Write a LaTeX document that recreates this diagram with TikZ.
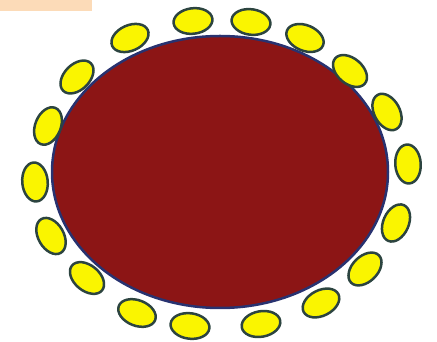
\documentclass[tikz,border=0pt]{standalone}
\usetikzlibrary{shapes.geometric}
\definecolor{bodyred}{HTML}{8C1515}
\definecolor{bodyline}{HTML}{283270}
\definecolor{dotyellow}{HTML}{FAF500}
\definecolor{dotline}{HTML}{2C4440}
\definecolor{peach}{HTML}{FCDBB8}
\tikzset{
  body/.style={ellipse, draw=bodyline, fill=bodyred, line width=2.5pt, inner sep=0pt, minimum width=336pt, minimum height=272pt},
  dot/.style={ellipse, draw=dotline, fill=dotyellow, line width=2.5pt, inner sep=0pt, minimum width=39pt, minimum height=25.5pt},
  tag/.style={fill=peach, draw=none, inner sep=0pt, minimum width=92pt, minimum height=11pt, anchor=north west}
}
\begin{document}
\begin{tikzpicture}[x=1pt,y=1pt]
\useasboundingbox (0,0) rectangle (437,342);
\fill[white] (0,0) rectangle (437,342);
\node[tag] (label) at (0,342) {};
\node[body] (cell) at (220,170) {};
\foreach \n/\x/\y/\r in {
  1/193/21/6.7, 2/251/22/-7.8, 3/305/38/-22.8, 4/350/71/-40.4, 5/387/112/-61.4,
  6/408/164/-86.3, 7/396/223/66.3, 8/365/269/44.6, 9/321/303/27, 10/261/324/10,
  11/190/326/-7.3, 12/137/313/-21.3, 13/87/278/-39.7, 14/51/236/-60.2, 15/35/182/94.7,
  16/48/126/68, 17/77/77/44.8, 18/130/38/23.9}{
  \node[dot, rotate=\r] (d\n) at (\x,342-\y) {};
}
\end{tikzpicture}
\end{document}
